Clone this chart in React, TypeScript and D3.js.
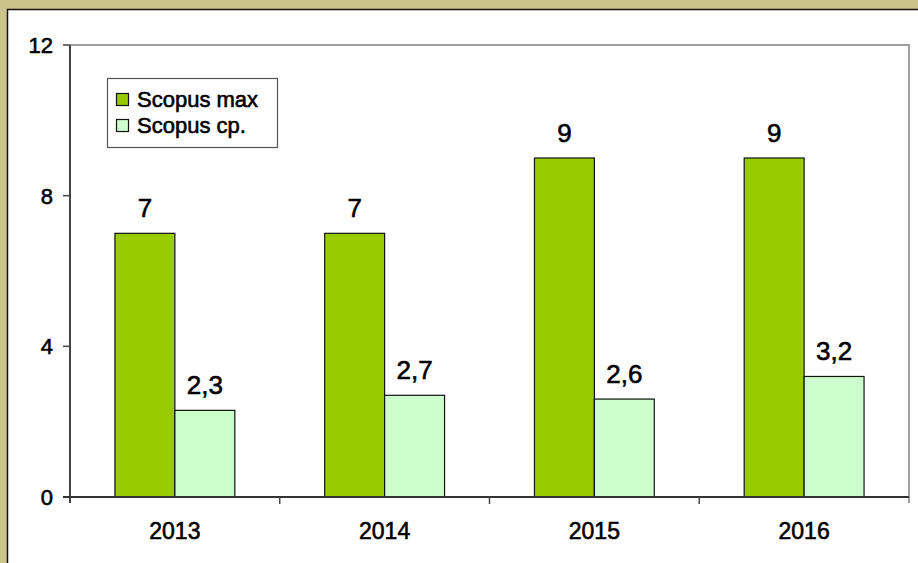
import React, { useEffect, useRef } from 'react';
import * as d3 from 'd3';

const years = ['2013', '2014', '2015', '2016'];
const series = ['Scopus max', 'Scopus ср.'];
const maxValues = [7, 7, 9, 9];
const avgValues = [2.3, 2.7, 2.6, 3.2];
const yTicks = [0, 4, 8, 12];
const colors = ['#99CC00', '#CCFFCC'];

const App: React.FC = () => {
  const svgRef = useRef<SVGSVGElement>(null);

  useEffect(() => {
    if (!svgRef.current) return;
    const W = 918;
    const H = 563;
    const svg = d3.select(svgRef.current);
    svg.selectAll('*').remove();

    // frame
    svg.append('rect').attr('width', W).attr('height', H).attr('fill', '#C9C48B');
    svg.append('rect').attr('x', 7).attr('y', 9).attr('width', W).attr('height', H).attr('fill', '#fff');
    svg.append('path').attr('d', `M7.5,${H} V9.5 H${W}`).attr('fill', 'none').attr('stroke', '#111').attr('stroke-width', 1.5);

    const plot = { left: 70, right: 909, top: 45, bottom: 497 };
    const font = '"Liberation Sans", Arial, sans-serif';
    // slightly heavier than regular, like the reference
    const txt = (sel: any, size: number) => sel
      .style('font-family', font).style('font-size', `${size}px`)
      .style('fill', '#000').style('stroke', '#000').style('stroke-width', 0.6);

    const x = d3.scaleBand().domain(years).range([plot.left, plot.right]);
    const xInner = d3.scaleBand().domain(series).range([0, x.bandwidth()]).paddingOuter(0.75);
    const y = d3.scaleLinear().domain([0, 12]).range([plot.bottom, plot.top]);

    // plot border top/right
    svg.append('path')
      .attr('d', `M${plot.left},${plot.top} H${plot.right} V${plot.bottom + 6}`)
      .attr('fill', 'none').attr('stroke', '#a0a0a0').attr('stroke-width', 2);

    // bars
    const data = years.map((yr, i) => ({ yr, vals: [maxValues[i], avgValues[i]] }));
    const g = svg.append('g').selectAll('g').data(data).enter().append('g')
      .attr('transform', d => `translate(${x(d.yr)},0)`);

    g.selectAll('rect').data(d => d.vals.map((v, k) => ({ v, k }))).enter().append('rect')
      .attr('x', d => xInner(series[d.k])!)
      .attr('width', xInner.bandwidth())
      .attr('y', d => y(d.v))
      .attr('height', d => y(0) - y(d.v))
      .attr('fill', d => colors[d.k])
      .attr('stroke', '#111').attr('stroke-width', 1.2);

    txt(g.selectAll('text').data(d => d.vals.map((v, k) => ({ v, k }))).enter().append('text')
      .attr('x', d => xInner(series[d.k])! + xInner.bandwidth() / 2)
      .attr('y', d => y(d.v) - 16)
      .attr('text-anchor', 'middle'), 26)
      .text(d => String(d.v).replace('.', ','));

    // y axis
    const yAxis = svg.append('g');
    yAxis.append('line').attr('x1', plot.left).attr('x2', plot.left).attr('y1', plot.top).attr('y2', plot.bottom + 6)
      .attr('stroke', '#444').attr('stroke-width', 2);
    yTicks.forEach(t => {
      yAxis.append('line').attr('x1', plot.left - 7).attr('x2', plot.left).attr('y1', y(t)).attr('y2', y(t))
        .attr('stroke', '#444').attr('stroke-width', 1.5);
      txt(yAxis.append('text').attr('x', 53).attr('y', y(t)).attr('dy', '0.36em').attr('text-anchor', 'end'), 22)
        .text(String(t));
    });

    // x axis
    const xAxis = svg.append('g');
    xAxis.append('line').attr('x1', plot.left - 7).attr('x2', plot.right).attr('y1', plot.bottom).attr('y2', plot.bottom)
      .attr('stroke', '#333').attr('stroke-width', 2);
    years.forEach((yr, i) => {
      if (i > 0) {
        xAxis.append('line').attr('x1', x(yr)!).attr('x2', x(yr)!).attr('y1', plot.bottom).attr('y2', plot.bottom + 7)
          .attr('stroke', '#444').attr('stroke-width', 1.5);
      }
      txt(xAxis.append('text').attr('x', x(yr)! + x.bandwidth() / 2).attr('y', 539).attr('text-anchor', 'middle'), 23)
        .text(yr);
    });

    // legend
    const lg = svg.append('g');
    lg.append('rect').attr('x', 107.5).attr('y', 78.5).attr('width', 170).attr('height', 69)
      .attr('fill', '#fff').attr('stroke', '#555').attr('stroke-width', 1.2);
    series.forEach((s, k) => {
      lg.append('rect').attr('x', 116.5).attr('y', 93.5 + k * 26).attr('width', 12).attr('height', 12)
        .attr('fill', colors[k]).attr('stroke', '#111').attr('stroke-width', 1.2);
      txt(lg.append('text').attr('x', 137).attr('y', 107 + k * 26), 22).text(s);
    });
  }, []);

  return (
    <div style={{ position: 'absolute', left: 0, top: 0 }}>
      <svg ref={svgRef} width={918} height={563} style={{ display: 'block' }} />
    </div>
  );
};

export default App;
